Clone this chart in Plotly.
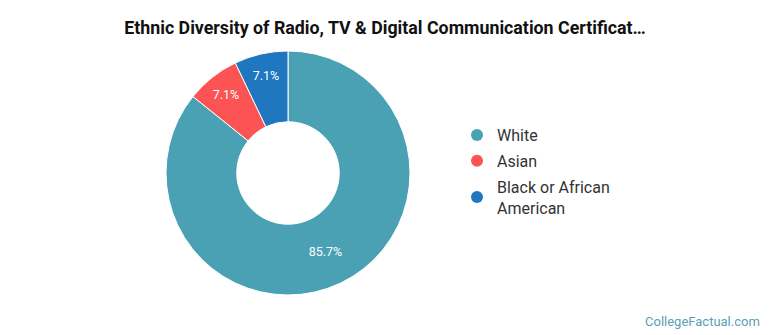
import plotly.graph_objects as go

labels = ["White", "Asian", "Black or African American"]
legend_labels = ["White", "Asian", "Black or African<br>American"]
values = [85.7, 7.1, 7.1]
colors = ["#4aa1b3", "#fc5454", "#1f77c0"]

fig = go.Figure()
fig.add_trace(go.Pie(
    labels=labels, values=values, sort=False, direction="clockwise", rotation=0,
    hole=0.42,
    marker=dict(colors=colors, line=dict(color="white", width=1)),
    textinfo="percent", texttemplate="%{value:.1f}%",
    textposition="inside", insidetextorientation="horizontal",
    textfont=dict(family="Roboto", size=12.5, color="white"),
    showlegend=False, hoverinfo="label+percent",
    domain=dict(x=[(288 - 122) / 770, (288 + 122) / 770], y=[40 / 335, 284 / 335]),
))
for i, (lab, col) in enumerate(zip(legend_labels, colors)):
    fig.add_trace(go.Scatter(x=[None], y=[None], mode="markers", name=lab,
                             legendgroup=f"g{i}",
                             marker=dict(symbol="circle", size=15, color=col)))

fig.update_layout(
    width=770, height=335, margin=dict(l=0, r=0, t=0, b=0),
    paper_bgcolor="white", plot_bgcolor="white",
    font=dict(family="Roboto", color="#333333"),
    title=dict(text="<b>Ethnic Diversity of Radio, TV & Digital Communication Certificat…</b>",
               x=0.5, xanchor="center", y=1 - 28 / 335, yanchor="middle",
               font=dict(family="Roboto", size=17.8, color="#111111")),
    xaxis=dict(visible=False), yaxis=dict(visible=False),
    legend=dict(x=457 / 770, xanchor="left", y=1 - 118 / 335, yanchor="top",
                font=dict(family="Roboto", size=16, color="#333333"),
                itemsizing="constant", traceorder="grouped", tracegroupgap=2),
    annotations=[dict(text="CollegeFactual.com", x=1, xref="paper", xanchor="right",
                      y=14 / 335, yref="paper", yanchor="middle", showarrow=False,
                      xshift=-8,
                      font=dict(family="Roboto", size=13, color="#5b9fb5"))],
)
fig.write_html("out.html")
